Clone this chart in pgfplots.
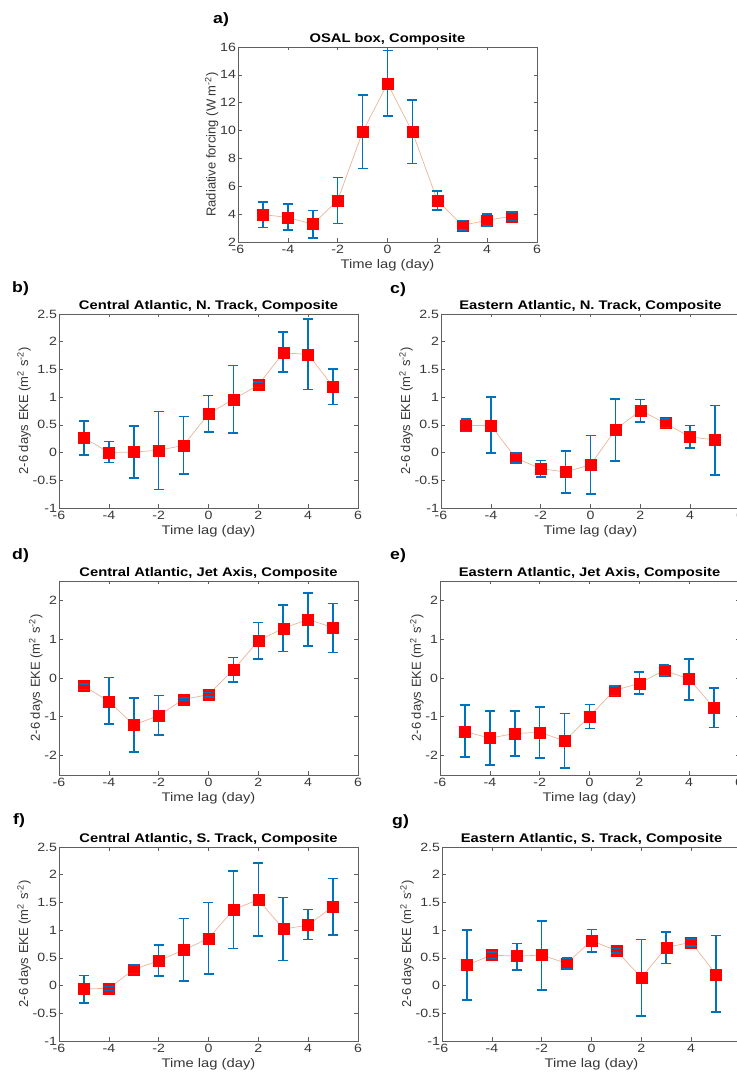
\documentclass[border=0pt]{standalone}
\usepackage{pgfplots}
\pgfplotsset{compat=1.18}
\usepackage{pgfplotstable}
\usepackage{fontspec}
\setmainfont[FakeStretch=1.18]{Liberation Sans}
\newfontfamily\plainsans{Liberation Sans}
\definecolor{mblue}{RGB}{0,114,189}
\definecolor{mred}{RGB}{255,0,0}
\definecolor{linecol}{RGB}{235,180,155}
\definecolor{axcol}{RGB}{95,95,95}
\definecolor{tcol}{RGB}{55,55,55}

\pgfplotstableread{
x y lo hi
-5 3.97 3.05 4.88
-4 3.76 2.85 4.71
-3 3.28 2.30 4.27
-2 4.98 3.33 6.63
-1 9.90 7.28 12.54
0 13.38 11.03 15.74
1 9.90 7.64 12.21
2 4.98 4.29 5.65
3 3.20 2.85 3.54
4 3.56 3.15 4.00
5 3.85 3.53 4.14
}\tA
\pgfplotstableread{
x y lo hi
-5 0.27 -0.04 0.57
-4 0.00 -0.18 0.20
-3 0.01 -0.46 0.48
-2 0.04 -0.67 0.74
-1 0.13 -0.39 0.65
0 0.70 0.37 1.03
1 0.96 0.35 1.57
2 1.22 1.17 1.27
3 1.80 1.45 2.17
4 1.77 1.14 2.41
5 1.19 0.87 1.51
}\tB
\pgfplotstableread{
x y lo hi
-5 0.49 0.38 0.61
-4 0.49 -0.01 1.00
-3 -0.10 -0.19 -0.01
-2 -0.29 -0.44 -0.14
-1 -0.35 -0.73 0.03
0 -0.22 -0.75 0.31
1 0.41 -0.15 0.97
2 0.76 0.55 0.96
3 0.53 0.45 0.61
4 0.28 0.08 0.49
5 0.23 -0.40 0.85
}\tC
\pgfplotstableread{
x y lo hi
-5 -0.21 -0.30 -0.15
-4 -0.60 -1.18 0.01
-3 -1.21 -1.91 -0.52
-2 -0.97 -1.47 -0.45
-1 -0.55 -0.58 -0.51
0 -0.43 -0.49 -0.38
1 0.21 -0.11 0.53
2 0.96 0.49 1.43
3 1.28 0.68 1.88
4 1.51 0.83 2.19
5 1.30 0.66 1.92
}\tD
\pgfplotstableread{
x y lo hi
-5 -1.38 -2.04 -0.70
-4 -1.55 -2.25 -0.85
-3 -1.43 -2.01 -0.85
-2 -1.40 -2.06 -0.75
-1 -1.62 -2.32 -0.92
0 -0.99 -1.30 -0.68
1 -0.32 -0.45 -0.21
2 -0.14 -0.42 0.15
3 0.20 0.05 0.34
4 -0.03 -0.56 0.49
5 -0.77 -1.28 -0.26
}\tE
\pgfplotstableread{
x y lo hi
-5 -0.06 -0.31 0.18
-4 -0.05 -0.09 -0.02
-3 0.29 0.22 0.37
-2 0.45 0.17 0.73
-1 0.64 0.08 1.21
0 0.85 0.21 1.50
1 1.37 0.67 2.07
2 1.55 0.89 2.21
3 1.02 0.45 1.59
4 1.09 0.83 1.37
5 1.43 0.91 1.93
}\tF
\pgfplotstableread{
x y lo hi
-5 0.37 -0.26 1.00
-4 0.55 0.49 0.61
-3 0.53 0.28 0.76
-2 0.55 -0.08 1.17
-1 0.40 0.30 0.50
0 0.81 0.61 1.01
1 0.63 0.59 0.67
2 0.14 -0.55 0.83
3 0.69 0.40 0.97
4 0.78 0.71 0.84
5 0.20 -0.48 0.90
}\tG

\newcommand{\panelplots}[1]{%
  \addplot[linecol, line width=0.7pt, mark=none] table[x=x,y=y]{#1};
  \addplot[mblue, line width=1.6pt, draw=none, mark=none, error bars/.cd, y dir=both, y explicit,
    error mark=|,
    error bar style={draw=mblue, line width=1.6pt},
    error mark options={draw=mblue, line width=1.6pt, mark size=5pt}]
    table[x=x,y=y,y error plus expr=\thisrow{hi}-\thisrow{y}, y error minus expr=\thisrow{y}-\thisrow{lo}]{#1};
  \addplot[only marks, mark=square*, mark size=5.5pt, mark options={fill=mred, draw=mred}] table[x=x,y=y]{#1};
  \addplot[on layer=axis foreground, mblue, draw=none, mark=none, error bars/.cd, y dir=both, y explicit,
    error mark=|,
    error bar style={draw=mblue, draw opacity=0, line width=1.3pt},
    error mark options={draw=mblue, draw opacity=1, line width=1.5pt, mark size=5pt}]
    table[x=x,y=y,y error plus expr=\thisrow{hi}-\thisrow{y}, y error minus expr=\thisrow{y}-\thisrow{lo}]{#1};
}

\pgfplotsset{
  panel/.style={
    set layers,
    scale only axis, width=299pt, height=194pt, anchor=south west,
    xmin=-6, xmax=6, xtick={-6,-4,...,6},
    tick align=inside, major tick length=3.5pt,
    axis line style={axcol, line width=0.6pt},
    tick style={axcol, line width=0.6pt},
    /pgf/number format/assume math mode=true,
    ticklabel style={font=\fontsize{12}{13}\selectfont, text=tcol},
    yticklabel style={xshift=1.5pt},
    title style={font=\fontsize{12.5}{14}\selectfont\bfseries, yshift=-8pt},
    xlabel={Time lag (day)},
    xlabel style={font=\fontsize{12.5}{14}\selectfont, text=tcol, yshift=1pt},
    ylabel style={font=\plainsans\fontsize{13}{14}\selectfont, text=tcol, yshift=-5pt},
    ylabel={2-6 days EKE (m\textsuperscript{2} s\textsuperscript{-2})},
  },
  eke/.style={ymin=-1, ymax=2.5, ytick={-1,-0.5,...,2.5}},
  jet/.style={ymin=-2.5, ymax=2.5, ytick={-2,-1,...,2}},
}

\begin{document}
\begin{tikzpicture}[x=1pt,y=1pt]
\begin{axis}[panel, at={(238pt,833pt)}, height=195pt, ymin=2, ymax=16, ytick={2,4,...,16},
  title={OSAL box, Composite}, ylabel={Radiative forcing (W m\textsuperscript{-2})}]
\panelplots{\tA}
\end{axis}
\begin{axis}[panel, eke, at={(59pt,567pt)}, title={Central Atlantic, N. Track, Composite}]
\panelplots{\tB}
\end{axis}
\begin{axis}[panel, eke, at={(441pt,567pt)}, title={Eastern Atlantic, N. Track, Composite}]
\panelplots{\tC}
\end{axis}
\begin{axis}[panel, jet, at={(59pt,300pt)}, title={Central Atlantic, Jet Axis, Composite}]
\panelplots{\tD}
\end{axis}
\begin{axis}[panel, jet, at={(440pt,300pt)}, title={Eastern Atlantic, Jet Axis, Composite}]
\panelplots{\tE}
\end{axis}
\begin{axis}[panel, eke, at={(59pt,34pt)}, title={Central Atlantic, S. Track, Composite}]
\panelplots{\tF}
\end{axis}
\begin{axis}[panel, eke, at={(442pt,34pt)}, title={Eastern Atlantic, S. Track, Composite}]
\panelplots{\tG}
\end{axis}
\begin{scope}[every node/.style={anchor=west, inner sep=0pt, font=\fontsize{15}{17}\selectfont\bfseries}]
\node at (213,1055) {a)};
\node at (12,786) {b)};
\node at (390,785) {c)};
\node at (12,519) {d)};
\node at (390,519) {e)};
\node at (13,254) {f)};
\node at (392,253) {g)};
\end{scope}
\pgfresetboundingbox
\useasboundingbox (0,0) rectangle (736,1075);
\end{tikzpicture}
\end{document}
